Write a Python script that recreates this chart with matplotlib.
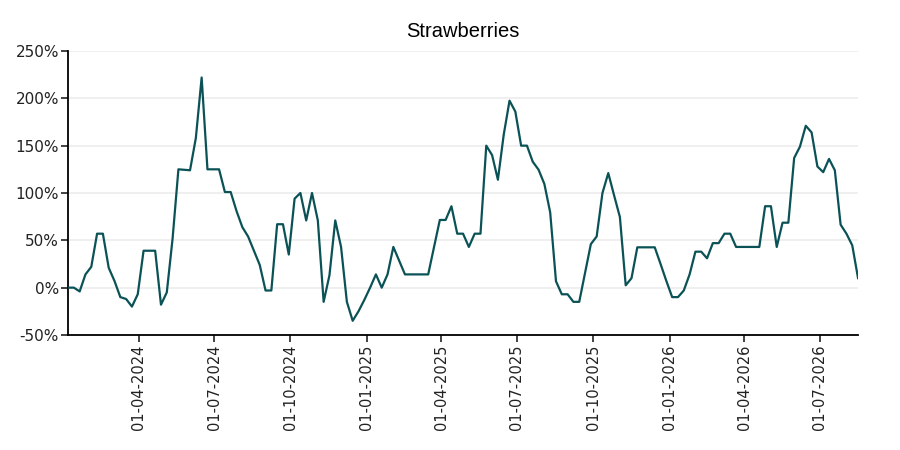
import numpy as np
import pandas as pd
import matplotlib
matplotlib.use("Agg")
import matplotlib.pyplot as plt
import matplotlib.dates as mdates
from matplotlib.ticker import FuncFormatter

# Weekly change (%)
start_date = "2024-01-07"
pct_change = [
    0, 0, -4, 14, 22, 57, 57, 21, 7, -10,
    -12, -20, -7, 39, 39, 39, -18, -5, 52, 125,
    124.5, 124, 158, 222, 125, 125, 125, 101, 101, 81,
    64, 54, 39, 24, -3, -3, 67, 67, 35, 94,
    100, 71, 100, 71, -15, 13, 71, 43, -15, -35,
    -25, -13, 0, 14, 0, 14, 43, 28.5, 14, 14,
    14, 14, 14, 43, 71.5, 71.5, 86, 57, 57, 43,
    57, 57, 150, 140, 114, 161.5, 197.5, 186, 150, 150,
    133, 124.6, 109.5, 79.5, 6.7, -7, -7, -15, -15, 15.5,
    46, 54, 100, 121, 97.5, 74.6, 2.5, 10, 42.6, 42.6,
    42.6, 42.6, 25, 7, -10, -10, -3, 14, 38, 38,
    31, 47, 47, 57, 57, 43, 43, 43, 43, 43,
    86, 86, 43, 68.6, 68.6, 137, 149, 171, 164, 128,
    122, 136, 124, 66.5, 57, 44.7, 10,
]
dates = pd.date_range(start_date, periods=len(pct_change), freq="7D")

y_ticks = [-50, 0, 50, 100, 150, 200, 250]

fig = plt.figure(figsize=(9, 4.5), dpi=100)
ax = fig.add_axes([0.0756, 0.2556, 0.8778, 0.6311])

ax.plot(dates, pct_change, color="#0b5256", linewidth=1.6, zorder=3)

ax.set_xlim(dates[0], dates[-1])
ax.set_ylim(-50, 250)
ax.set_yticks(y_ticks)
ax.yaxis.set_major_formatter(FuncFormatter(lambda v, p: f"{v:.0f}%"))
ax.grid(axis="y", color="#eeeeee", linewidth=1.3, zorder=0)

ax.xaxis.set_major_locator(mdates.MonthLocator(bymonth=[1, 4, 7, 10], bymonthday=1))
ax.xaxis.set_major_formatter(mdates.DateFormatter("%d-%m-%Y"))

for side in ["top", "right"]:
    ax.spines[side].set_visible(False)
for side in ["left", "bottom"]:
    ax.spines[side].set_linewidth(1.3)
ax.tick_params(axis="both", direction="out", length=5, width=1.2, colors="#222222")
ax.tick_params(axis="x", labelsize=10.5, pad=2, labelrotation=90)
ax.tick_params(axis="y", labelsize=11, pad=1.5)

ax.set_title("Strawberries", fontsize=14.5, family="Liberation Sans", pad=10)

fig.savefig("out.png", dpi=100)
